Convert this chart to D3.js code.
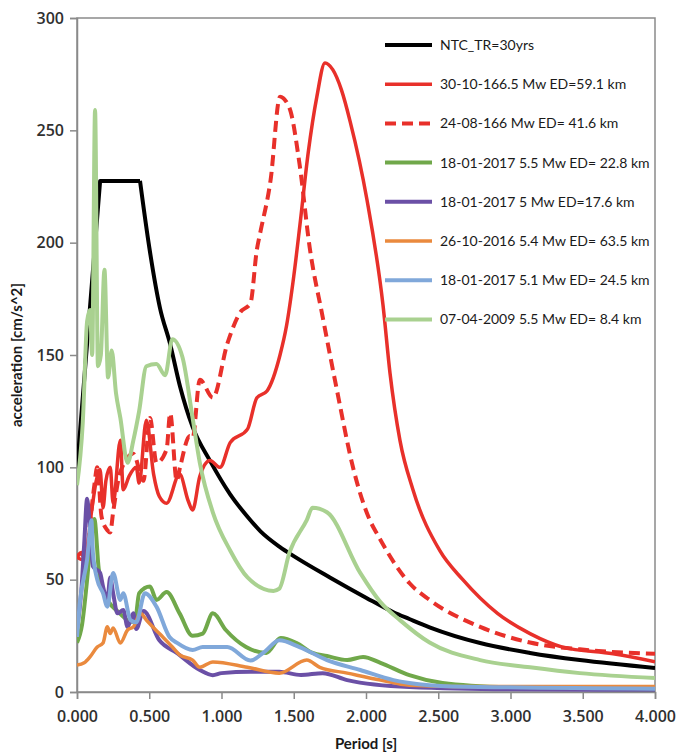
<!DOCTYPE html>
<html>
<head>
<meta charset="utf-8">
<script src="https://cdn.jsdelivr.net/npm/d3@7/dist/d3.min.js"></script>
<style>
  body { margin: 0; background: #fff; }
  svg { display: block; }
</style>
</head>
<body>
<svg id="chart"></svg>
<script>
// Response spectra, [period (s), acceleration (cm/s^2)]
const ntc = [[0,99],[0.16,227.5],[0.436,227.5],[0.5,198],[0.574,171],[0.644,155],[0.713,136],[0.80,118],
  [0.92,103],[1.06,88],[1.18,78],[1.27,71.5],[1.405,64.5],[1.50,60.5],[1.75,51],[2.0,42],[2.19,35.5],[2.30,32.5],
  [2.44,28.8],[2.79,21.8],[3.135,17.4],[3.48,14.2],[4.0,10.7]];

const ev301016 = [[0,60],[0.03,59],[0.07,64],[0.1,80],[0.16,99],[0.18,82],[0.2,94],[0.23,100],[0.25,84],
  [0.3,112],[0.32,90],[0.36,96],[0.41,100],[0.43,93],[0.48,121],[0.53,97],[0.57,87],[0.62,84],[0.71,97],
  [0.77,85],[0.80,81],[0.85,96],[0.92,103],[0.99,100],[1.06,111],[1.18,117],[1.245,131],[1.315,134],
  [1.405,150],[1.45,163],[1.50,185],[1.543,208],[1.60,240],[1.66,265],[1.716,280],[1.77,277],[1.83,268],
  [1.89,254],[2.007,219],[2.118,172],[2.166,142],[2.235,112],[2.325,90],[2.51,63],[2.67,50],[2.91,35],
  [3.135,26],[3.36,20],[3.71,17],[4.0,13.5]];

const ev240816 = [[0,60],[0.03,62],[0.06,58],[0.09,75],[0.12,92],[0.14,100],[0.17,78],[0.21,72],[0.23,71],
  [0.25,80],[0.3,98],[0.39,106],[0.46,94],[0.505,122],[0.55,102],[0.62,108],[0.645,124],[0.69,94],
  [0.713,100],[0.78,114],[0.80,113],[0.85,139],[0.94,131],[1.04,155],[1.13,169],[1.2,173],[1.245,197],
  [1.27,205],[1.34,228],[1.405,265],[1.47,260],[1.54,235],[1.61,198],[1.70,167],[1.80,134],[1.91,100],
  [2.03,76],[2.08,70],[2.2,57],[2.3,48.5],[2.44,41],[2.79,29],[3.135,22],[3.48,19],[4.0,17]];

const ev180117a = [[0,22],[0.035,30],[0.07,50],[0.09,64],[0.12,77],[0.15,55],[0.18,45],[0.22,40],[0.28,36],
  [0.35,32],[0.40,31],[0.43,44],[0.505,47],[0.55,41],[0.62,44.5],[0.71,35],[0.80,25],[0.87,26],[0.94,35],
  [1.03,27.6],[1.17,20],[1.31,17.4],[1.41,24],[1.52,21.8],[1.63,17.4],[1.73,16],[1.87,14.2],[1.98,15.6],
  [2.1,13],[2.30,7.5],[2.53,4],[3.0,2],[4.0,1]];

const ev180117b = [[0,28],[0.03,45],[0.05,66],[0.07,86],[0.09,72],[0.11,56],[0.16,53],[0.18,47],[0.21,41],
  [0.23,51],[0.25,44],[0.28,35],[0.32,36.5],[0.35,29],[0.39,35],[0.41,28],[0.46,36],[0.57,23],[0.69,17.4],
  [0.85,9.8],[0.94,7.5],[1.0,8.4],[1.2,9],[1.40,9],[1.55,7.6],[1.70,8.4],[1.87,5.3],[2.30,2.2],[3.0,1.2],[4.0,1]];

const ev261016 = [[0,12],[0.05,13],[0.09,15.6],[0.14,20],[0.18,21.8],[0.21,29],[0.23,26],[0.25,28.5],
  [0.30,21.8],[0.35,27.6],[0.39,29],[0.44,35],[0.48,32],[0.57,26],[0.66,20],[0.71,16.5],[0.80,14.2],
  [0.85,11],[0.94,13.4],[1.18,11],[1.40,8.4],[1.59,14.2],[1.68,11],[1.87,8.4],[2.10,5.3],[2.30,3],
  [2.6,2.5],[4.0,2.5]];

const ev180117c = [[0,24.5],[0.02,40],[0.07,59],[0.10,76.5],[0.11,62],[0.14,50],[0.18,44],[0.21,38],
  [0.25,53],[0.30,41],[0.32,44],[0.37,32],[0.41,31],[0.47,44],[0.55,38],[0.64,24.5],[0.69,22],[0.80,18.7],
  [0.87,20],[1.04,20],[1.2,14],[1.3,18],[1.40,23],[1.54,20],[1.73,14.2],[1.96,9.8],[2.19,5.3],[2.30,4],
  [2.6,2.5],[4.0,1.5]];

const ev070409 = [[0,92],[0.04,120],[0.07,165],[0.09,170],[0.105,150],[0.125,259],[0.145,145],[0.165,150],
  [0.19,188],[0.215,140],[0.24,152],[0.27,133],[0.30,122],[0.35,102],[0.39,112],[0.43,125],[0.48,145],
  [0.55,146],[0.61,141],[0.66,157],[0.73,149],[0.80,122],[0.85,102],[0.94,80],[1.06,63],[1.18,51],
  [1.36,45],[1.40,46],[1.47,62],[1.59,76.5],[1.63,82],[1.73,80],[1.96,53],[2.1,40],[2.235,32],[2.44,22],
  [2.79,14.2],[3.135,11],[3.48,8.4],[4.0,6.2]];

const seriesNames = [
  'NTC_TR=30yrs',
  '30-10-166.5 Mw ED=59.1 km',
  '24-08-166 Mw ED= 41.6 km',
  '18-01-2017 5.5 Mw ED= 22.8 km',
  '18-01-2017 5 Mw ED=17.6 km',
  '26-10-2016 5.4 Mw ED= 63.5 km',
  '18-01-2017 5.1 Mw ED= 24.5 km',
  '07-04-2009 5.5 Mw ED= 8.4 km'
];
const seriesData = [ntc, ev301016, ev240816, ev180117a, ev180117b, ev261016, ev180117c, ev070409];

const xTicks = [0, 0.5, 1, 1.5, 2, 2.5, 3, 3.5, 4];
const yTicks = [0, 50, 100, 150, 200, 250, 300];

// Line styles per series
const colors = ['#000000', '#e8302a', '#e8302a', '#70a84a', '#6b50a6', '#ea8a3e', '#80a8da', '#a9d190'];
const dashes = [null, null, '11,6', null, null, null, null, null];
const widths = [4, 3.5, 4, 4, 4, 3.5, 4, 4];

const width = 682;
const height = 754;
const margin = { top: 18, right: 27, bottom: 62, left: 77 };
const plotW = width - margin.left - margin.right;
const plotH = height - margin.top - margin.bottom;

const svg = d3.select('#chart')
  .attr('width', width)
  .attr('height', height);

const x = d3.scaleLinear().domain([0, 4]).range([0, plotW]);
const y = d3.scaleLinear().domain([0, 300]).range([plotH, 0]);

const g = svg.append('g')
  .attr('transform', `translate(${margin.left},${margin.top})`);

// Plot frame (top and right)
g.append('rect')
  .attr('x', 0).attr('y', 0)
  .attr('width', plotW).attr('height', plotH)
  .attr('fill', 'none')
  .attr('stroke', '#8a8a8a')
  .attr('stroke-width', 1.5);

const fontTicks = '"Open Sans", sans-serif';

// Axes
const xAxis = g.append('g')
  .attr('transform', `translate(0,${plotH})`)
  .call(d3.axisBottom(x).tickValues(xTicks).tickFormat(d3.format('.3f')).tickSize(7).tickPadding(12));

const yAxis = g.append('g')
  .call(d3.axisLeft(y).tickValues(yTicks).tickSize(7).tickPadding(6));

[xAxis, yAxis].forEach(a => {
  a.select('.domain').attr('stroke', '#8a8a8a').attr('stroke-width', 1.5);
  a.selectAll('.tick line').attr('stroke', '#8a8a8a').attr('stroke-width', 1.5);
  a.selectAll('.tick text')
    .attr('fill', '#303030')
    .style('font-family', fontTicks)
    .style('font-weight', 600)
    .style('font-size', '16px');
});

// Lines
const line = d3.line()
  .x(d => x(d[0]))
  .y(d => y(d[1]));

svg.append('clipPath').attr('id', 'plot-clip')
  .append('rect').attr('width', plotW).attr('height', plotH);

const lines = g.append('g').attr('clip-path', 'url(#plot-clip)');

function drawPath(data, i, curve) {
  lines.append('path')
    .datum(data)
    .attr('d', line.curve(curve))
    .attr('fill', 'none')
    .attr('stroke', colors[i])
    .attr('stroke-width', widths[i])
    .attr('stroke-dasharray', dashes[i])
    .attr('stroke-linejoin', 'round')
    .attr('stroke-linecap', 'butt');
}

seriesData.forEach((data, i) => {
  if (i === 0) {
    // design spectrum: straight ramp + plateau, smooth decay after T_C
    drawPath(data.slice(0, 3), i, d3.curveLinear);
    drawPath(data.slice(2), i, d3.curveMonotoneX);
  } else {
    drawPath(data, i, d3.curveMonotoneX);
  }
});

// Legend
const legend = g.append('g')
  .attr('transform', `translate(${385 - margin.left},${45 - margin.top})`);

seriesNames.forEach((name, i) => {
  const row = legend.append('g').attr('transform', `translate(0,${i * 39.2})`);
  row.append('line')
    .attr('x1', 0).attr('x2', 47)
    .attr('y1', 0).attr('y2', 0)
    .attr('stroke', colors[i])
    .attr('stroke-width', widths[i])
    .attr('stroke-dasharray', dashes[i]);
  row.append('text')
    .attr('x', 55)
    .attr('y', 0)
    .attr('dy', '0.35em')
    .attr('fill', '#1a1a1a')
    .style('font-family', 'Lato, sans-serif')
    .style('font-size', '14px')
    .text(name);
});

// Axis titles
svg.append('text')
  .attr('x', margin.left + plotW / 2)
  .attr('y', 749)
  .attr('text-anchor', 'middle')
  .attr('fill', '#1a1a1a')
  .style('font-family', 'Lato, sans-serif')
  .style('font-weight', 'bold')
  .style('font-size', '15px')
  .text('Period [s]');

svg.append('text')
  .attr('transform', `translate(22,${margin.top + plotH / 2}) rotate(-90)`)
  .attr('text-anchor', 'middle')
  .attr('fill', '#1a1a1a')
  .style('font-family', 'Lato, sans-serif')
  .style('font-weight', 'bold')
  .style('font-size', '15px')
  .text('acceleration [cm/s^2]');
</script>
</body>
</html>
